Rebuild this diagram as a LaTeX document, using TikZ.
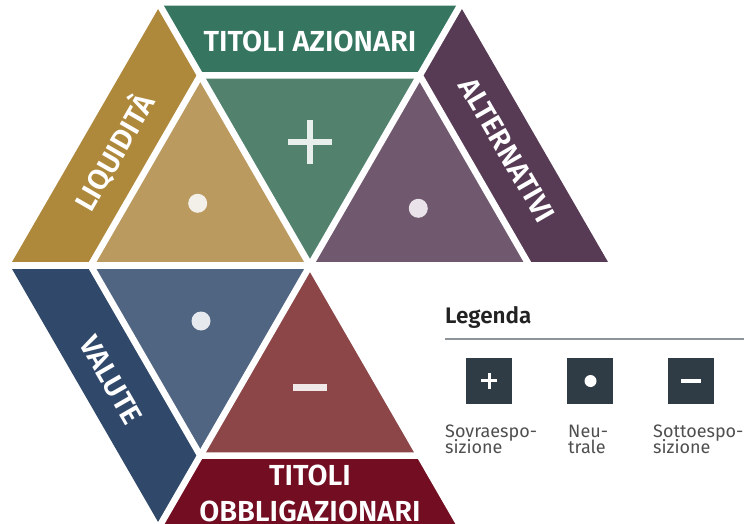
\documentclass[tikz,border=0pt]{standalone}
\usepackage{fontspec}
\setmainfont{Fira Sans}[BoldFont={Fira Sans SemiBold}]
\definecolor{gband}{HTML}{367660}
\definecolor{gtri}{HTML}{52826D}
\definecolor{oband}{HTML}{AE893C}
\definecolor{otri}{HTML}{BB9A5F}
\definecolor{pband}{HTML}{573B55}
\definecolor{ptri}{HTML}{70596E}
\definecolor{bband}{HTML}{30496A}
\definecolor{btri}{HTML}{506581}
\definecolor{rband}{HTML}{730D22}
\definecolor{rtri}{HTML}{8C4648}
\definecolor{legbox}{HTML}{2F3C46}
\definecolor{legtext}{HTML}{222222}
\definecolor{labtext}{HTML}{4F4F4F}
\definecolor{legline}{HTML}{8F9498}
\definecolor{plusc}{HTML}{E8EEEB}
\definecolor{dotgold}{HTML}{F3EFE9}
\definecolor{dotpur}{HTML}{EAE3EA}
\definecolor{dotblue}{HTML}{E6E9EE}
\definecolor{minusc}{HTML}{F0E8E8}
\begin{document}
\begin{tikzpicture}[x=1pt,y=-1pt,
  bandtext/.style={text=white,font=\bfseries\fontsize{29}{35}\selectfont,inner sep=0pt,text height=20pt,text depth=0pt},
  sep/.style={white,line width=6.5pt},
  legsq/.style={fill=legbox,minimum size=46pt,inner sep=0pt},
  leglab/.style={text=labtext,font=\fontsize{18}{16}\selectfont,inner sep=0pt,anchor=base west}]
\useasboundingbox (0,0) rectangle (744,524);
% geometry
\coordinate (C) at (310,265.5);
\coordinate (O0) at (610,265.5);
\coordinate (O60) at (460,5.69);
\coordinate (O120) at (160,5.69);
\coordinate (O180) at (10,265.5);
\coordinate (O240) at (160,525.31);
\coordinate (O300) at (460,525.31);
\coordinate (I0) at (529.39,265.5);
\coordinate (I60) at (419.7,75.5);
\coordinate (I120) at (200.3,75.5);
\coordinate (I180) at (90.61,265.5);
\coordinate (I240) at (200.3,455.5);
\coordinate (I300) at (419.7,455.5);
\coordinate (E0) at (620,265.5);
\coordinate (E180) at (0,265.5);
\coordinate (E60) at (465,-3);
\coordinate (E240) at (155,534);
\coordinate (E120) at (155,-3);
\coordinate (E300) at (465,534);
% sectors
\fill[gtri] (C) -- (I60) -- (I120) -- cycle;
\fill[gband] (I120) -- (O120) -- (O60) -- (I60) -- cycle;
\fill[otri] (C) -- (I120) -- (I180) -- cycle;
\fill[oband] (I180) -- (O180) -- (O120) -- (I120) -- cycle;
\fill[ptri] (C) -- (I0) -- (I60) -- cycle;
\fill[pband] (I0) -- (O0) -- (O60) -- (I60) -- cycle;
\fill[btri] (C) -- (I180) -- (I240) -- cycle;
\fill[bband] (I240) -- (O240) -- (O180) -- (I180) -- cycle;
\fill[rtri] (C) -- (I240) -- (I300) -- cycle;
\fill[rband] (I300) -- (O300) -- (O240) -- (I240) -- cycle;
% white separators
\draw[sep] (E180) -- (E0);
\draw[sep] (E60) -- (E240);
\draw[sep] (E120) -- (E300);
\draw[sep,line join=miter] (I0) -- (I60) -- (I120) -- (I180) -- (I240) -- (I300) -- cycle;
% band labels
\node[bandtext] (tAz) at (310,41.7) {TITOLI AZIONARI};
\node[bandtext,rotate=60] (tLiq) at (115,153) {LIQUIDITÀ};
\node[bandtext,rotate=-60] (tAlt) at (507,150) {ALTERNATIVI};
\node[bandtext,rotate=-60] (tVal) at (111,380) {VALUTE};
\node[bandtext] (tOb1) at (310,475.5) {TITOLI};
\node[bandtext] (tOb2) at (310,511) {OBBLIGAZIONARI};
% symbols
\fill[plusc] (306.5,120) rectangle (313.3,164);
\fill[plusc] (287.5,139) rectangle (332.3,145.5);
\fill[dotgold] (197.7,203.3) circle[radius=9.5pt];
\fill[dotpur] (418.3,208.3) circle[radius=9.5pt];
\fill[dotblue] (201,321) circle[radius=9.5pt];
\fill[minusc] (292.7,384) rectangle (327,391);
% legend
\node[text=legtext,font=\bfseries\fontsize{22.5}{26}\selectfont,inner sep=0pt,anchor=base west] (leg) at (445,323) {Legenda};
\coordinate (L1) at (445,339);
\coordinate (L2) at (744,339);
\draw[legline,line width=2pt] (L1) -- (L2);
\node[legsq] (s1) at (489,380.5) {};
\node[legsq] (s2) at (590,380.5) {};
\node[legsq] (s3) at (691,380.5) {};
\fill[white] (481,379) rectangle (497,382);
\fill[white] (487.5,372.5) rectangle (490.5,388.5);
\fill[white] (590.5,381) circle[radius=6pt];
\fill[white] (681,379) rectangle (701,382.5);
\node[leglab] (l1a) at (445,437) {Sovraespo-};
\node[leglab] (l1b) at (445,453) {sizione};
\node[leglab] (l2a) at (568,437) {Neu-};
\node[leglab] (l2b) at (568,453) {trale};
\node[leglab] (l3a) at (653,437) {Sottoespo-};
\node[leglab] (l3b) at (653,453) {sizione};
\end{tikzpicture}
\end{document}
